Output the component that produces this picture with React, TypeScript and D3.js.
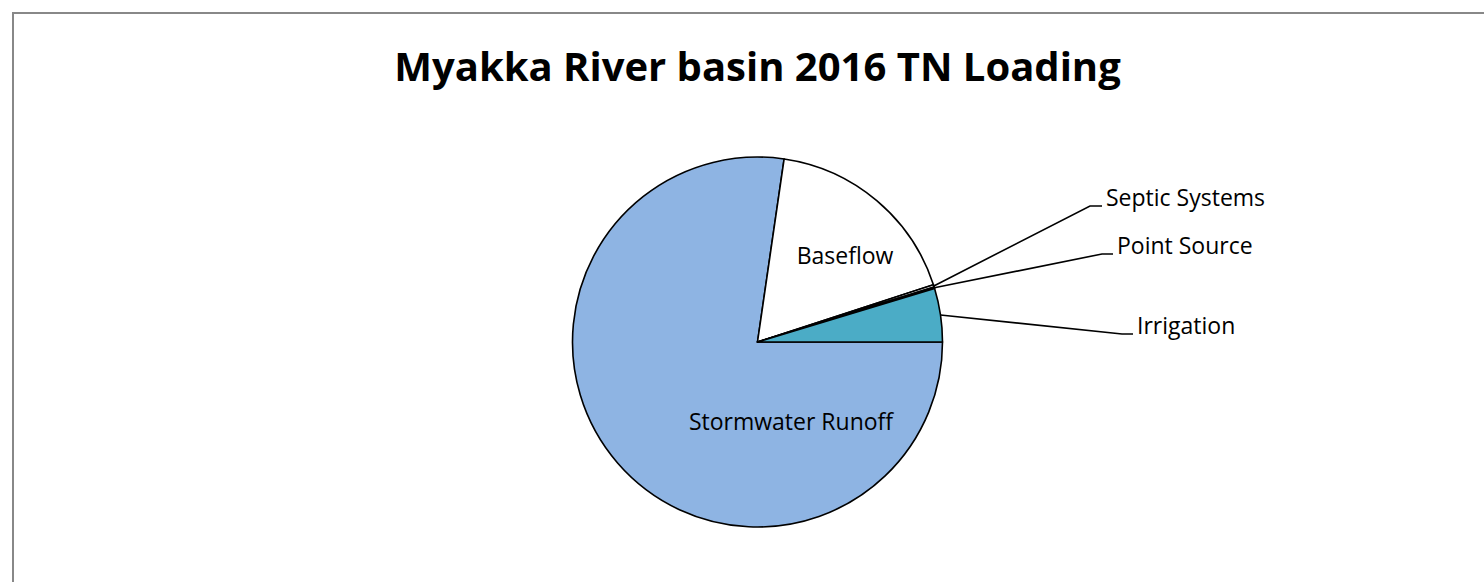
import * as d3 from 'd3';
import React from 'react';

// TN loading shares (percent of total)
const sources = ['Stormwater Runoff', 'Baseflow', 'Septic Systems', 'Point Source', 'Irrigation'];
const shares = [77.3, 17.7, 0.2, 0.13, 4.67];
const fills = ['#8EB4E3', '#FFFFFF', '#FFFFFF', '#FFFFFF', '#4BACC6'];

const title = 'Myakka River basin 2016 TN Loading';

const width = 1484;
const height = 582;
const cx = 757.5;
const cy = 342;
const radius = 185;

// labels drawn inside the slice vs. outside with a leader line
const inside: Record<string, [number, number]> = {
  'Stormwater Runoff': [791, 421],
  Baseflow: [845, 255],
};
const outside: Record<string, { elbow: [number, number]; end: [number, number] }> = {
  'Septic Systems': { elbow: [1090, 206], end: [1102, 206] },
  'Point Source': { elbow: [1102, 254], end: [1113, 254] },
  Irrigation: { elbow: [1122, 334], end: [1133, 334] },
};

const font = "'Open Sans', sans-serif";

export default function App() {
  const data = sources.map((name, i) => ({ name, value: shares[i], fill: fills[i] }));

  const pie = d3
    .pie<{ name: string; value: number; fill: string }>()
    .sort(null)
    .value((d) => d.value)
    .startAngle(Math.PI / 2)
    .endAngle(Math.PI / 2 + 2 * Math.PI);

  const arc = d3.arc<d3.PieArcDatum<any>>().innerRadius(0).outerRadius(radius);
  const arcs = pie(data);

  return (
    <div style={{ position: 'absolute', left: 0, top: 0 }}>
      <svg width={width} height={height} style={{ display: 'block', background: '#fff' }}>
        <rect x={13} y={13} width={width + 20} height={height + 20} fill="#fff" stroke="#888" strokeWidth={2} />
        <text
          x={cx}
          y={81}
          textAnchor="middle"
          fontFamily={font}
          fontWeight="bold"
          fontSize={40}
          fill="#000"
        >
          {title}
        </text>
        <g transform={`translate(${cx},${cy})`}>
          {arcs.map((a) => (
            <path key={a.data.name} d={arc(a) ?? ''} fill={a.data.fill} stroke="#000" strokeWidth={1.6} strokeLinejoin="round" />
          ))}
        </g>
        {arcs.map((a) => {
          const name = a.data.name;
          if (inside[name]) {
            const [x, y] = inside[name];
            return (
              <text key={name} x={x} y={y} textAnchor="middle" dominantBaseline="central" fontFamily={font} fontSize={23} fill="#000">
                {name}
              </text>
            );
          }
          const o = outside[name];
          const mid = (a.startAngle + a.endAngle) / 2;
          const sx = cx + radius * Math.sin(mid);
          const sy = cy - radius * Math.cos(mid);
          return (
            <g key={name}>
              <polyline
                points={`${sx},${sy} ${o.elbow[0]},${o.elbow[1]} ${o.end[0]},${o.end[1]}`}
                fill="none"
                stroke="#000"
                strokeWidth={1.6}
              />
              <text x={o.end[0] + 4} y={o.end[1] - 9} dominantBaseline="central" fontFamily={font} fontSize={23} fill="#000">
                {name}
              </text>
            </g>
          );
        })}
      </svg>
    </div>
  );
}
